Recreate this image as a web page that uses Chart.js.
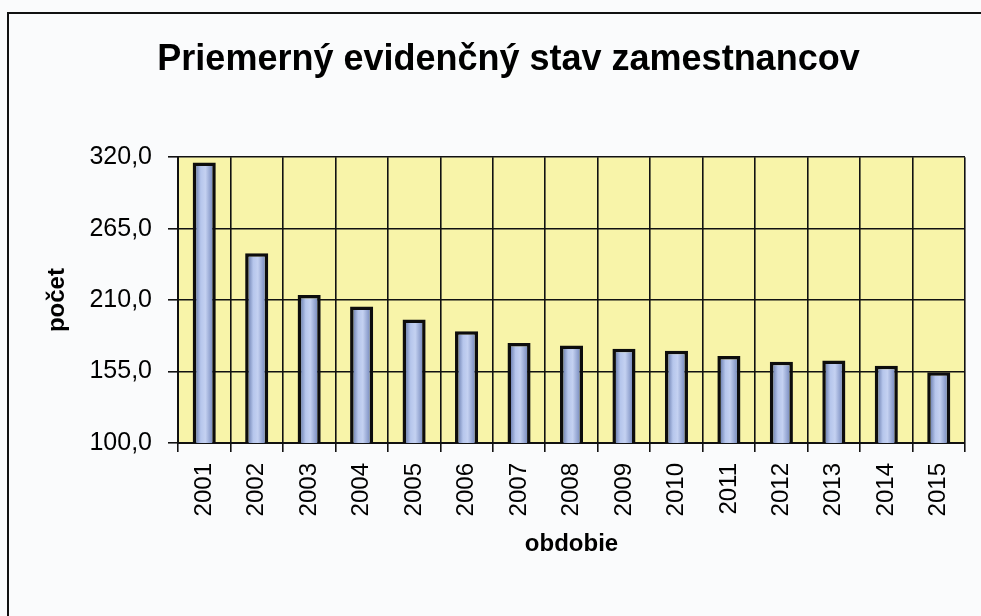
<!DOCTYPE html>
<html>
<head>
<meta charset="utf-8">
<script src="https://cdn.jsdelivr.net/npm/chart.js@4/dist/chart.umd.min.js"></script>
<style>
  html, body { margin: 0; padding: 0; background: #fafbfc; overflow: hidden; }
  #wrap { position: absolute; left: 0; top: 0; width: 981px; height: 616px; }
</style>
</head>
<body>
<div id="wrap"><canvas id="chartStav"></canvas></div>
<script>
// Dáta
const roky = ['2001', '2002', '2003', '2004', '2005', '2006', '2007', '2008', '2009', '2010', '2011', '2012', '2013', '2014', '2015'];
const pocet = [316, 246, 214, 205, 195, 186, 177, 175, 172.5, 171, 167, 162.5, 163.5, 159.5, 154.5];
const osY = { min: 100, max: 320, krok: 55 };
const nadpis = 'Priemerný evidenčný stav zamestnancov';
const nazovX = 'obdobie', nazovY = 'počet';

const FONT = '"Liberation Sans", Arial, sans-serif';
const BAR_PCT = 0.44;

// pozadie, rámik a žltá plocha grafu
const pozadie = {
    id: 'pozadie',
    beforeDraw(chart) {
        const { ctx, chartArea: a } = chart;
        ctx.save();
        ctx.fillStyle = '#fafbfc'; ctx.fillRect(0, 0, chart.width, chart.height);
        ctx.strokeStyle = '#111'; ctx.lineWidth = 2;
        ctx.strokeRect(8, 13, chart.width + 20, chart.height + 20);
        ctx.fillStyle = '#f8f4a9'; ctx.fillRect(a.left, a.top, a.right - a.left, a.bottom - a.top);
        ctx.restore();
    }
};

function farbaStlpca(c) {
    const x = c.chart.scales.x;
    if (!x || c.dataIndex === undefined || !x.width) return '#a2b4df';
    const cx = x.getPixelForValue(c.dataIndex);
    const half = x.width / roky.length * BAR_PCT / 2;
    const g = c.chart.ctx.createLinearGradient(cx - half, 0, cx + half, 0);
    g.addColorStop(0, '#44598f'); g.addColorStop(0.35, '#b6c6ec'); g.addColorStop(0.55, '#c4d1f1'); g.addColorStop(1, '#5a70ab');
    return g;
}

new Chart(document.getElementById('chartStav'), {
    type: 'bar',
    data: { labels: roky, datasets: [{ label: nazovY, data: pocet, backgroundColor: farbaStlpca, borderColor: '#0d0d0d', borderWidth: 3.5, borderSkipped: false, barPercentage: BAR_PCT, categoryPercentage: 1 }] },
    options: {
        responsive: true, maintainAspectRatio: false, animation: false,
        layout: { padding: { top: 10, left: 52, right: 16, bottom: 50 } },
        plugins: {
            legend: { display: false }, tooltip: { enabled: false },
            title: { display: true, text: nadpis, color: '#000', font: { family: FONT, size: 36, weight: 'bold' }, padding: { top: 28, bottom: 76 } }
        },
        scales: {
            x: {
                afterFit(s) { s.height = 123; },
                grid: { color: '#111', lineWidth: 1.6, tickLength: 9, offset: true },
                border: { color: '#111', width: 2 },
                ticks: { color: '#000', font: { family: FONT, size: 24 }, minRotation: 90, maxRotation: 90, padding: 11, autoSkip: false },
                title: { display: true, text: nazovX, color: '#000', font: { family: FONT, size: 24, weight: 'bold' }, padding: { top: 0, bottom: 7 } }
            },
            y: {
                min: osY.min, max: osY.max,
                afterFit(s) { s.width = 126; },
                grid: { color: '#111', lineWidth: 1.6, tickLength: 10 },
                border: { color: '#111', width: 2 },
                ticks: { stepSize: osY.krok, color: '#000', font: { family: FONT, size: 25 }, padding: 16, callback: v => v.toFixed(1).replace('.', ',') },
                title: { display: true, text: nazovY, color: '#000', font: { family: FONT, size: 24, weight: 'bold' }, padding: { top: -9, bottom: 0 } }
            }
        }
    },
    plugins: [pozadie]
});
</script>
</body>
</html>
